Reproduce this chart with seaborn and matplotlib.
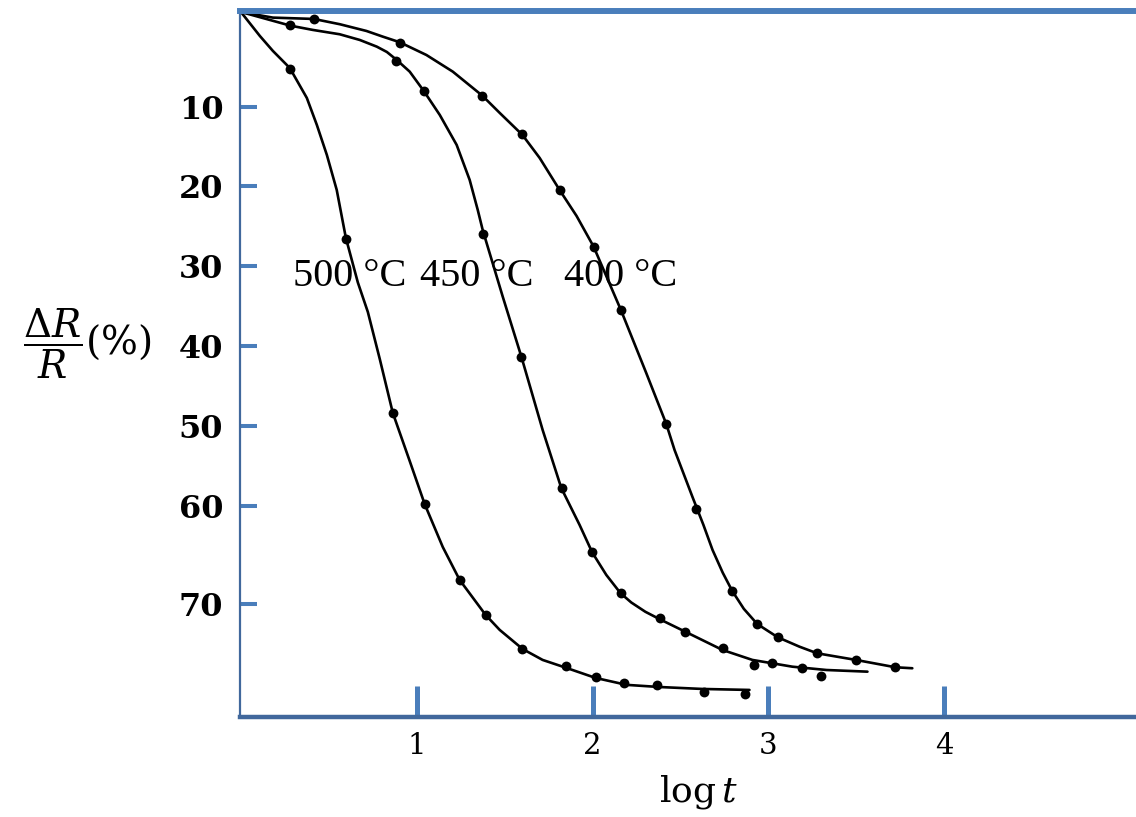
import numpy as np
import pandas as pd
import matplotlib
matplotlib.use("Agg")
import matplotlib.pyplot as plt
import seaborn as sns

# measured points: log t  vs  dR/R (%)
x500 = [0.282, 0.597, 0.864, 1.045, 1.244, 1.392, 1.600, 1.850, 2.017, 2.176, 2.368, 2.631, 2.864]
y500 = [6.06, 26.56, 48.33, 59.72, 67.54, 71.13, 74.64, 76.35, 77.44, 78.12, 78.29, 78.98, 79.24]

x450 = [0.282, 0.881, 1.040, 1.375, 1.595, 1.824, 1.998, 2.159, 2.386, 2.528, 2.740, 2.917, 3.019, 3.190, 3.300]
y450 = [1.37, 5.15, 8.32, 25.94, 41.29, 57.72, 64.73, 68.90, 71.46, 72.87, 74.53, 76.24, 76.07, 76.58, 77.34]

x400 = [0.415, 0.903, 1.372, 1.597, 1.813, 2.006, 2.161, 2.419, 2.589, 2.794, 2.936, 3.053, 3.277, 3.498, 3.722]
y400 = [0.74, 3.25, 8.88, 13.43, 20.50, 27.53, 35.45, 49.71, 60.31, 68.67, 72.05, 73.41, 75.05, 75.73, 76.48]

# hand-drawn smooth curves
cx500 = [0, 0.108, 0.182, 0.278, 0.375, 0.432, 0.489, 0.545, 0.597, 0.665, 0.722, 0.790, 0.864,
         0.960, 1.045, 1.148, 1.244, 1.392, 1.472, 1.602, 1.716, 1.852, 2.017, 2.193, 2.380,
         2.625, 2.892]
cy500 = [0, 2.54, 4.12, 5.92, 9.09, 12.30, 16.06, 20.43, 26.43, 32.00, 35.70, 41.60, 48.33,
         54.34, 59.72, 64.17, 67.54, 71.13, 72.66, 74.61, 75.73, 76.55, 77.57, 78.28, 78.50,
         78.70, 78.80]

cx450 = [0, 0.282, 0.409, 0.562, 0.676, 0.773, 0.830, 0.886, 0.960, 1.040, 1.131, 1.227, 1.301,
         1.347, 1.375, 1.489, 1.595, 1.716, 1.822, 1.926, 1.998, 2.078, 2.159, 2.220, 2.300,
         2.386, 2.527, 2.739, 2.909, 3.136, 3.330, 3.563]
cy450 = [0, 1.45, 1.90, 2.36, 2.96, 3.67, 4.23, 5.07, 6.31, 8.35, 11.05, 14.80, 19.18,
         22.94, 25.44, 33.78, 41.29, 50.46, 57.72, 61.91, 64.73, 67.03, 68.90, 69.85, 70.80,
         71.60, 72.84, 74.71, 75.73, 76.42, 76.76, 76.93]

cx400 = [0, 0.182, 0.415, 0.563, 0.714, 0.807, 0.903, 1.055, 1.205, 1.373, 1.472, 1.601, 1.699,
         1.816, 1.909, 2.006, 2.161, 2.305, 2.419, 2.466, 2.568, 2.630, 2.682, 2.740, 2.794,
         2.860, 2.936, 3.053, 3.176, 3.277, 3.498, 3.722, 3.818]
cy400 = [0, 0.60, 0.74, 1.30, 2.01, 2.61, 3.20, 4.55, 6.31, 8.85, 10.80, 13.55, 16.43,
         20.56, 23.69, 27.53, 35.45, 43.33, 49.71, 52.96, 58.84, 61.90, 64.47, 66.80, 68.67,
         70.50, 72.05, 73.41, 74.37, 75.05, 75.73, 76.48, 76.58]

temps = ["500 °C", "450 °C", "400 °C"]
label_x = [0.619, 1.341, 2.159]
label_y = 32.4

xticks = [1, 2, 3, 4]
yticks = [10, 20, 30, 40, 50, 60, 70]

pts = pd.concat([
    pd.DataFrame({"logt": x500, "dr": y500, "T": temps[0]}),
    pd.DataFrame({"logt": x450, "dr": y450, "T": temps[1]}),
    pd.DataFrame({"logt": x400, "dr": y400, "T": temps[2]}),
])
curves = pd.concat([
    pd.DataFrame({"logt": cx500, "dr": cy500, "T": temps[0]}),
    pd.DataFrame({"logt": cx450, "dr": cy450, "T": temps[1]}),
    pd.DataFrame({"logt": cx400, "dr": cy400, "T": temps[2]}),
])

sns.set_theme(style="white")
plt.rcParams["font.family"] = ["DejaVu Serif"]
plt.rcParams["mathtext.fontset"] = "dejavuserif"
plt.rcParams["text.color"] = "black"

# the original vertical axis is not evenly spaced (70 sits lower than it should)
v_knots = [-10, 0, 10, 60, 70, 100]
p_knots = [-82.6, 12.0, 106.6, 506.3, 604.0, 897.1]
def fwd(v):
    return np.interp(v, v_knots, p_knots)
def inv(p):
    return np.interp(p, p_knots, v_knots)

blue = "#4a7ebb"
dark = "#41689c"

fig = plt.figure(figsize=(11.36, 8.17), dpi=100)
ax = fig.add_axes([240 / 1136, 1 - 717 / 817, 896 / 1136, 706 / 817])
ax.set_yscale("function", functions=(fwd, inv))

sns.lineplot(data=curves, x="logt", y="dr", units="T", estimator=None, sort=False,
             color="black", linewidth=1.9, solid_joinstyle="round", solid_capstyle="round", ax=ax)
sns.scatterplot(data=pts, x="logt", y="dr", color="black", s=50, edgecolor="black",
                linewidth=0, zorder=3, ax=ax, legend=False)

ax.set_xlim(-0.005, 5.09)
ax.set_ylim(81.57, -0.1)

for lx, t in zip(label_x, temps):
    ax.text(lx, label_y, t, ha="center", va="baseline", fontsize=29,
            family=["Liberation Serif", "DejaVu Serif"], color="black")

ax.set_xticks(xticks)
ax.set_xticklabels([str(t) for t in xticks], fontsize=21)
ax.set_yticks(yticks)
ax.set_yticklabels([str(t) for t in yticks], fontsize=23, fontweight="bold")
ax.yaxis.set_minor_locator(matplotlib.ticker.NullLocator())
ax.tick_params(axis="y", direction="in", length=12, width=2.9, color=blue, pad=12,
               left=True, labelcolor="black")
ax.tick_params(axis="x", direction="in", length=22, width=3.6, color=blue, pad=11,
               bottom=True, labelcolor="black")

ax.spines["right"].set_visible(False)
ax.spines["top"].set_color(blue)
ax.spines["top"].set_linewidth(4.3)
ax.spines["bottom"].set_color(dark)
ax.spines["bottom"].set_linewidth(3.2)
ax.spines["left"].set_color(dark)
ax.spines["left"].set_linewidth(1.6)

ax.set_xlabel(r"$\mathrm{log}\,t$", fontsize=26, color="black")
ax.xaxis.set_label_coords(0.512, -0.08)
ax.set_ylabel(r"$\dfrac{\Delta R}{R}$(%)", fontsize=28, rotation=0, ha="center", va="center",
              color="black")
ax.yaxis.set_label_coords(-0.17, 0.528)

fig.savefig("out.png", dpi=100)
